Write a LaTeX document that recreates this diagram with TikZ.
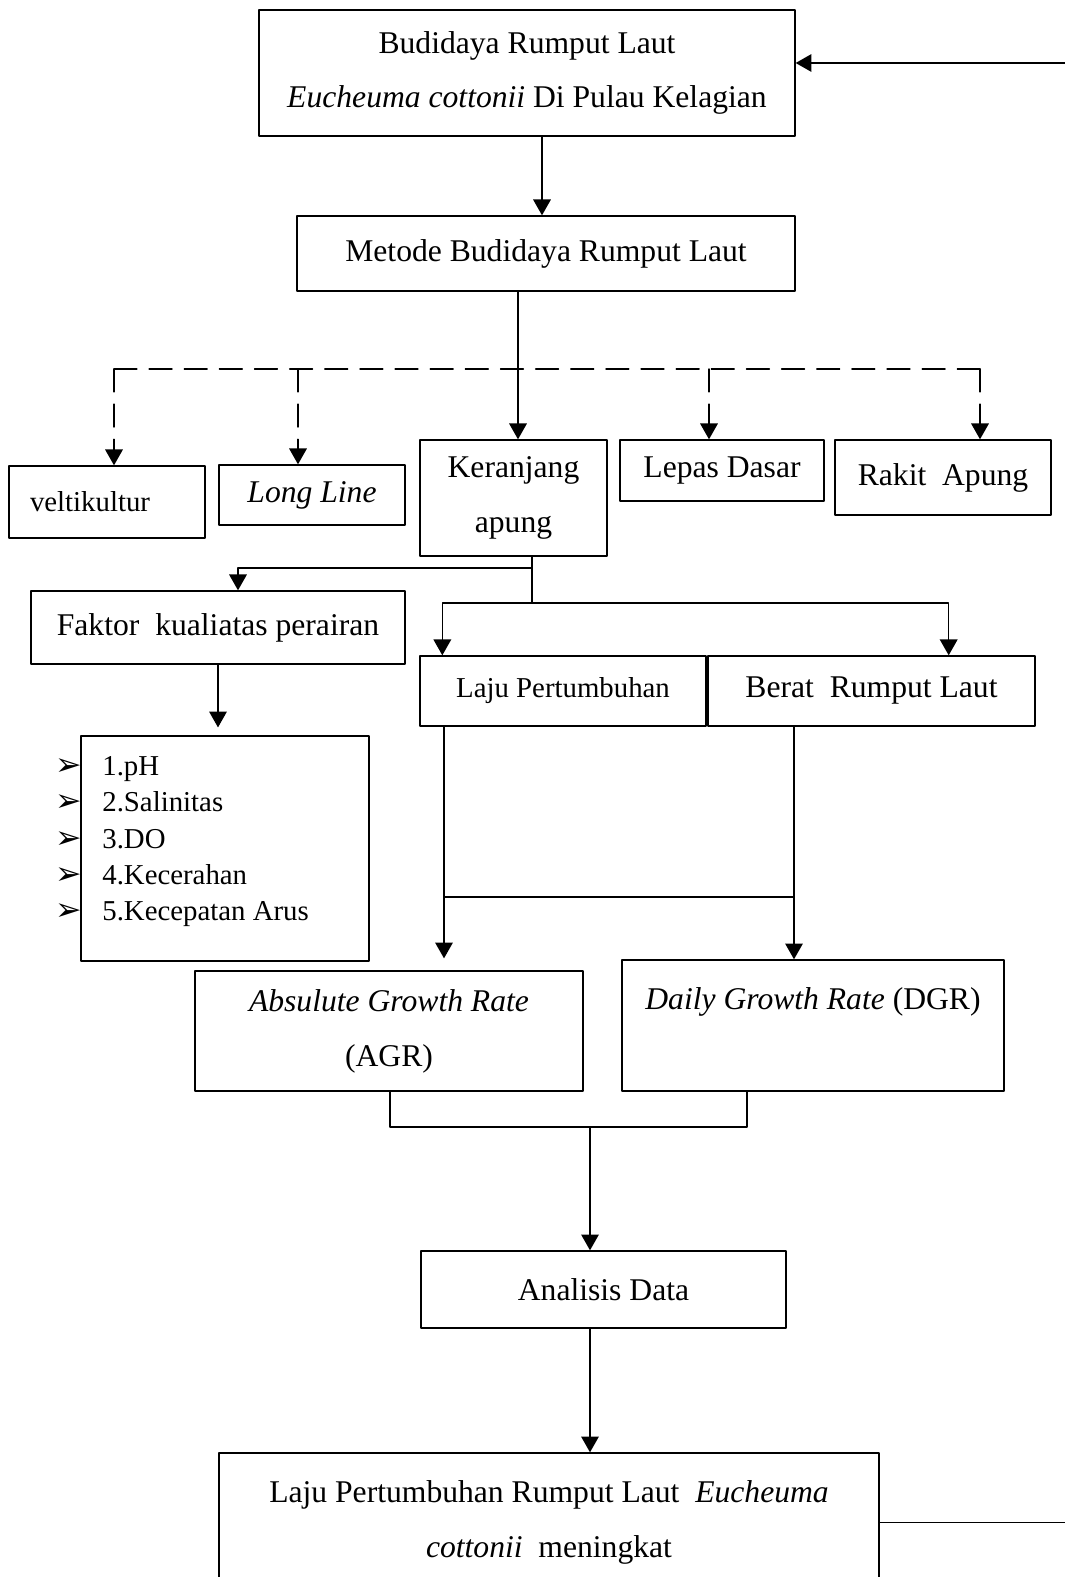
\documentclass[tikz,border=0pt]{standalone}
\usepackage{fontspec}
\setmainfont{Liberation Serif}
\newfontfamily\dingfont{DejaVu Sans}
\usepackage{tikz}
\usetikzlibrary{arrows.meta}
\tikzset{
  every picture/.style={font=\fontsize{18}{31.2}\selectfont, line join=round, line cap=round, >={Triangle[length=9pt,width=10pt]}},
  link/.style={line width=0.8pt},
  dashline/.style={line width=0.8pt, dash pattern=on 13pt off 7pt},
  box/.style={draw, line width=0.8pt, inner sep=2pt, align=center},
  smallbox/.style={box, font=\fontsize{16.4}{20}\selectfont},
  item/.style={anchor=base west, inner sep=0pt, font=\fontsize{16.4}{20}\selectfont},
  bullet/.style={anchor=base west, inner sep=0pt, font=\dingfont\fontsize{18}{20}\selectfont},
}

\begin{document}
\begin{tikzpicture}[x=0.02cm, y=-0.02cm]
\useasboundingbox (0,0) rectangle (1064,1577);
% boxes
\node[box, minimum width=10.72cm, minimum height=2.52cm] (top) at (527,73) {Budidaya Rumput Laut\\ \textit{Eucheuma cottonii} Di Pulau Kelagian};
\node[box, minimum width=9.96cm, minimum height=1.5cm] (metode) at (546,253.5) {Metode Budidaya Rumput Laut};
\node[smallbox, text width=3.08cm, inner xsep=0.42cm, align=left, minimum height=1.44cm] (velt) at (107,502) {veltikultur};
\node[box, minimum width=3.72cm, minimum height=1.2cm] (long) at (312,495) {\textit{Long Line}};
\node[box, minimum width=3.74cm, minimum height=2.32cm] (keranjang) at (513.5,498) {Keranjang\\ apung};
\node[box, minimum width=4.08cm, minimum height=1.22cm] (lepas) at (722,470.5) {Lepas Dasar};
\node[box, minimum width=4.32cm, minimum height=1.5cm] (rakit) at (943,477.5) {Rakit~ Apung};
\node[box, minimum width=7.48cm, minimum height=1.46cm] (faktor) at (218,627.5) {Faktor~ kualiatas perairan};
\node[box, minimum width=5.76cm, minimum height=4.5cm] (param) at (225,848.5) {};
\node[smallbox, minimum width=5.72cm, minimum height=1.4cm] (laju) at (563,691) {Laju Pertumbuhan};
\node[box, minimum width=6.54cm, minimum height=1.4cm] (berat) at (871.5,691) {Berat~ Rumput Laut};
\node[box, minimum width=7.76cm, minimum height=2.4cm] (agr) at (389,1031) {\textit{Absulute Growth Rate}\\ (AGR)};
\node[box, minimum width=7.64cm, minimum height=2.62cm] (dgr) at (813,1025.5) {\textit{Daily Growth Rate} (DGR)\\ ~};
\node[box, minimum width=7.3cm, minimum height=1.54cm] (analisis) at (603.5,1289.5) {Analisis Data};
\node[box, minimum width=13.2cm, minimum height=2.78cm] (final) at (549,1522.5) {Laju Pertumbuhan Rumput Laut~ \textit{Eucheuma}\\ \textit{cottonii}~ meningkat};
% parameter list
\node[bullet] (b1) at (55,775) {➢};
\node[bullet] (b2) at (55,811) {➢};
\node[bullet] (b3) at (55,848) {➢};
\node[bullet] (b4) at (55,884) {➢};
\node[bullet] (b5) at (55,920) {➢};
\node[item] (i1) at (102,775) {1.pH};
\node[item] (i2) at (102,811) {2.Salinitas};
\node[item] (i3) at (102,848) {3.DO};
\node[item] (i4) at (102,884) {4.Kecerahan};
\node[item] (i5) at (102,920) {5.Kecepatan Arus};
% junctions
\coordinate (dv) at (114,369);
\coordinate (dl) at (298,369);
\coordinate (dd) at (709,369);
\coordinate (dr) at (980,369);
\coordinate (ks) at (532,568);
\coordinate (kl) at (532,603);
\coordinate (lj) at (444,897);
\coordinate (bj) at (794,897);
\coordinate (aj) at (390,1127);
\coordinate (dj) at (747,1127);
\coordinate (mj) at (590,1127);
\coordinate (fb) at (1080,800);
% connectors
\draw[link,->] ([xshift=0.3cm]top.south) -- ([xshift=0.3cm]top.south |- metode.north);
\draw[link,->] ([xshift=0.09cm]keranjang.north |- metode.south) -- ([xshift=0.09cm]keranjang.north);
\draw[dashline] (dv) -- (dr);
\draw[dashline,->] (dv) -- (dv |- velt.north);
\draw[dashline,->] (dl) -- (dl |- long.north);
\draw[dashline,->] (dd) -- (dd |- lepas.north);
\draw[dashline,->] (dr) -- (dr |- rakit.north);
\draw[link] (ks |- keranjang.south) -- (kl);
\draw[link,->] (ks) -| ([xshift=0.4cm]faktor.north);
\draw[link,<->] ([xshift=0.46cm]laju.north west) |- (kl) -| ([xshift=-1.74cm]berat.north east);
\draw[link,->,shorten >=4.5pt] (faktor.south) -- (faktor.south |- param.north);
\draw[link,->,shorten >=6.8pt] (lj |- laju.south) -- (lj |- agr.north);
\draw[link,->] (bj |- berat.south) -- (bj |- dgr.north);
\draw[link] (lj) -- (bj);
\draw[link] (aj |- agr.south) -- (aj) -- (dj) -- (dj |- dgr.south);
\draw[link,->] (mj) -- (mj |- analisis.north);
\draw[link,->] (mj |- analisis.south) -- (mj |- final.north);
\draw[link,->] (final.east) -| (fb) |- ([yshift=0.2cm]top.east);
\end{tikzpicture}
\end{document}
